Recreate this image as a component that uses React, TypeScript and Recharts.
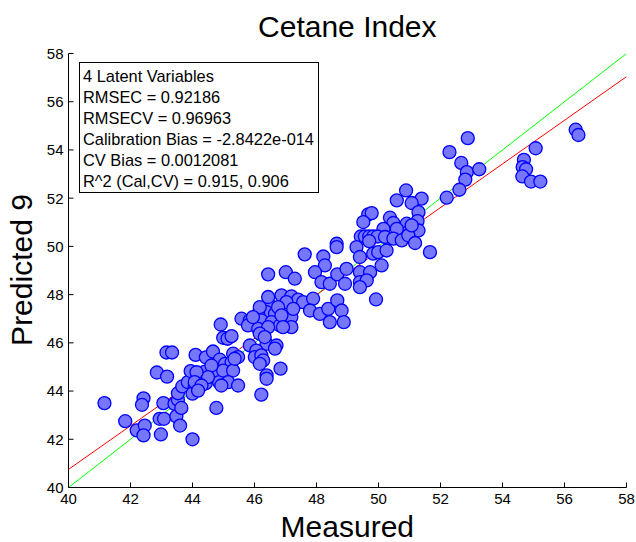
import { ScatterChart, Scatter, XAxis, YAxis } from "recharts";

const measured = [
  41.16, 41.83, 42.2, 42.42, 42.37, 42.46, 42.42, 42.85, 43.18, 43.16,
  43.34, 43.06, 42.94, 43.08, 42.98, 43.42, 43.48, 43.6, 44.0, 44.77,
  43.53, 43.64, 43.53, 43.67, 43.85, 44.07, 44.0, 44.18, 43.94, 44.1,
  44.43, 44.66, 44.4, 44.43, 44.56, 44.68, 44.86, 44.91, 44.99, 45.13,
  45.26, 44.88, 45.05, 45.26, 44.99, 45.31, 44.61, 44.5, 44.13, 44.07,
  45.15, 45.47, 44.93, 44.29, 44.18, 45.31, 45.47, 45.36, 45.85, 46.39,
  46.71, 46.66, 46.06, 46.01, 46.22, 46.28, 46.17, 46.84, 46.39, 46.39,
  46.22, 46.49, 46.92, 47.09, 46.39, 46.66, 46.12, 45.58, 45.85, 46.22,
  46.55, 46.82, 45.79, 46.12, 46.44, 47.19, 47.19, 46.17, 46.33, 47.62,
  48.22, 48.27, 46.44, 47.01, 47.3, 47.95, 48.16, 48.43, 48.67, 48.97,
  48.92, 46.87, 47.19, 47.41, 47.57, 47.89, 46.44, 47.03, 47.25, 46.76,
  46.17, 46.87, 46.92, 45.95, 47.79, 48.11, 48.38, 48.67, 48.81, 48.43,
  48.88, 50.89, 51.39, 50.59, 51.07, 51.29, 49.67, 49.78, 49.51, 50.37,
  50.48, 50.91, 51.26, 51.29, 50.91, 50.16, 50.59, 49.43, 49.56, 49.7,
  49.83, 49.97, 49.7, 50.21, 50.48, 50.75, 50.96, 51.18, 48.65, 48.65,
  49.29, 49.83, 49.4, 49.99, 50.26, 51.66, 50.1, 49.4, 49.73, 49.4,
  49.62, 49.4, 49.92, 52.29, 52.67, 52.85, 53.25, 52.8, 52.61, 52.2,
  51.07, 52.88, 55.07, 54.69, 54.65, 54.76, 54.64, 54.92, 55.22, 56.36,
  56.45
];
const predicted = [
  43.5, 42.75, 42.37, 43.7, 43.43, 42.57, 42.16, 44.77, 44.6, 45.6,
  45.6, 43.5, 42.85, 42.85, 42.2, 43.47, 42.95, 42.57, 42.0, 43.3,
  43.64, 43.3, 43.91, 44.19, 44.37, 44.16, 43.89, 44.07, 44.83, 45.5,
  45.4, 45.64, 44.81, 44.33, 44.6, 44.65, 44.37, 46.76, 46.21, 46.17,
  46.28, 45.3, 45.13, 45.2, 44.85, 44.85, 45.06, 44.58, 44.78, 44.37,
  44.37, 44.23, 44.23, 44.23, 44.02, 45.55, 45.41, 45.34, 45.89, 45.96,
  45.89, 45.76, 45.68, 45.41, 45.48, 45.27, 45.13, 44.93, 44.65, 44.51,
  43.85, 47.55, 47.55, 47.41, 47.27, 47.2, 47.2, 47.0, 46.93, 46.93,
  46.86, 46.72, 46.72, 46.58, 46.65, 47.07, 46.65, 46.38, 46.24, 49.67,
  49.58, 49.21, 48.84, 48.93, 48.66, 48.93, 48.52, 48.45, 48.84, 49.07,
  48.45, 47.97, 47.93, 47.79, 47.69, 47.83, 47.9, 47.69, 47.41, 47.48,
  47.48, 47.14, 46.65, 47.07, 47.34, 47.2, 47.41, 47.76, 47.34, 46.86,
  46.86, 52.32, 51.98, 51.91, 51.8, 51.42, 51.33, 51.38, 51.01, 51.19,
  50.97, 50.94, 51.05, 50.66, 50.55, 50.73, 50.73, 50.41, 50.41, 50.41,
  50.41, 50.41, 50.22, 50.39, 50.32, 50.25, 50.46, 50.14, 50.11, 49.97,
  49.97, 49.7, 49.56, 49.76, 49.83, 49.76, 49.21, 48.93, 48.93, 48.52,
  48.59, 48.31, 47.8, 53.91, 53.46, 53.08, 53.2, 52.77, 52.35, 52.02,
  50.87, 54.49, 54.07, 53.59, 53.29, 53.2, 52.9, 52.69, 52.69, 54.84,
  54.62
];

// 1:1 line (green) and fitted line (red)
const identityX = [40, 58];
const identityY = [40, 58];
const fitX = [40, 58];
const fitY = [40.75, 57.04];

const axisTicks = [40, 42, 44, 46, 48, 50, 52, 54, 56, 58];

const statsLines = [
  "4 Latent Variables",
  "RMSEC = 0.92186",
  "RMSECV = 0.96963",
  "Calibration Bias = -2.8422e-014",
  "CV Bias = 0.0012081",
  "R^2 (Cal,CV) = 0.915, 0.906"
];

const FONT = "Arial, 'Liberation Sans', sans-serif";

const points = measured.map((m, i) => ({ x: m, y: predicted[i] }));
const identity = identityX.map((x, i) => ({ x, y: identityY[i] }));
const fit = fitX.map((x, i) => ({ x, y: fitY[i] }));

function BottomTick({ x, y, payload }: any) {
  return (
    <g>
      <line x1={x} x2={x} y1={y} y2={y - 5} stroke="#000" />
      <text x={x} y={y + 16.5} textAnchor="middle" fontSize={15} fontFamily={FONT} fill="#000">
        {payload.value}
      </text>
    </g>
  );
}

function LeftTick({ x, y, payload }: any) {
  return (
    <g>
      <line x1={x} x2={x + 5} y1={y} y2={y} stroke="#000" />
      <text x={x - 5} y={y + 5.4} textAnchor="end" fontSize={15} fontFamily={FONT} fill="#000">
        {payload.value}
      </text>
    </g>
  );
}

function TopTick({ x, y }: any) {
  return <line x1={x} x2={x} y1={y} y2={y + 5} stroke="#000" />;
}

function RightTick({ x, y }: any) {
  return <line x1={x} x2={x - 5} y1={y} y2={y} stroke="#000" />;
}

function Dot({ cx, cy }: any) {
  return <circle cx={cx} cy={cy} r={6.5} fill="#7676ff" stroke="#0000ff" strokeWidth={1.3} />;
}

const noDot = () => <g />;

export default function App() {
  return (
    <div style={{ position: "relative", width: 636, height: 542, background: "#fff" }}>
      <style>{`body{margin:0}`}</style>
      <ScatterChart
        width={636}
        height={542}
        margin={{ top: 53.5, right: 9.5, bottom: 24.5, left: 38.5 }}
      >
        <XAxis
          xAxisId={0}
          dataKey="x"
          type="number"
          domain={[40, 58]}
          ticks={axisTicks}
          interval={0}
          allowDataOverflow
          height={30}
          tickSize={0}
          tickMargin={0}
          tickLine={false}
          axisLine={{ stroke: "#000" }}
          tick={<BottomTick />}
        />
        <XAxis
          xAxisId="top"
          orientation="top"
          dataKey="x"
          type="number"
          domain={[40, 58]}
          ticks={axisTicks}
          interval={0}
          allowDataOverflow
          height={0}
          tickSize={0}
          tickMargin={0}
          tickLine={false}
          axisLine={{ stroke: "#000" }}
          tick={<TopTick />}
        />
        <YAxis
          yAxisId={0}
          dataKey="y"
          type="number"
          domain={[40, 58]}
          ticks={axisTicks}
          interval={0}
          allowDataOverflow
          width={30}
          tickSize={0}
          tickMargin={0}
          tickLine={false}
          axisLine={{ stroke: "#000" }}
          tick={<LeftTick />}
        />
        <YAxis
          yAxisId="right"
          orientation="right"
          dataKey="y"
          type="number"
          domain={[40, 58]}
          ticks={axisTicks}
          interval={0}
          allowDataOverflow
          width={0}
          tickSize={0}
          tickMargin={0}
          tickLine={false}
          axisLine={{ stroke: "#000" }}
          tick={<RightTick />}
        />
        <Scatter
          data={identity}
          line={{ stroke: "#00ff00", strokeWidth: 1 }}
          shape={noDot}
          isAnimationActive={false}
        />
        <Scatter
          data={fit}
          line={{ stroke: "#ff0000", strokeWidth: 1 }}
          shape={noDot}
          isAnimationActive={false}
        />
        <Scatter data={points} shape={<Dot />} isAnimationActive={false} />
      </ScatterChart>
      <svg
        width={636}
        height={542}
        style={{ position: "absolute", left: 0, top: 0, pointerEvents: "none" }}
      >
        <text x={347.3} y={36.7} textAnchor="middle" fontSize={30} fontFamily={FONT} fill="#000">
          Cetane Index
        </text>
        <text x={347.3} y={537} textAnchor="middle" fontSize={30} fontFamily={FONT} fill="#000">
          Measured
        </text>
        <text
          transform="translate(32, 270) rotate(-90)"
          textAnchor="middle"
          fontSize={30}
          fontFamily={FONT}
          fill="#000"
        >
          Predicted 9
        </text>
        <rect x={79.5} y={62.5} width={239} height={130} fill="#fff" stroke="#000" />
        {statsLines.map((line, i) => (
          <text key={i} x={83} y={81.7 + i * 21} fontSize={16.4} fontFamily={FONT} fill="#000">
            {line}
          </text>
        ))}
      </svg>
    </div>
  );
}
